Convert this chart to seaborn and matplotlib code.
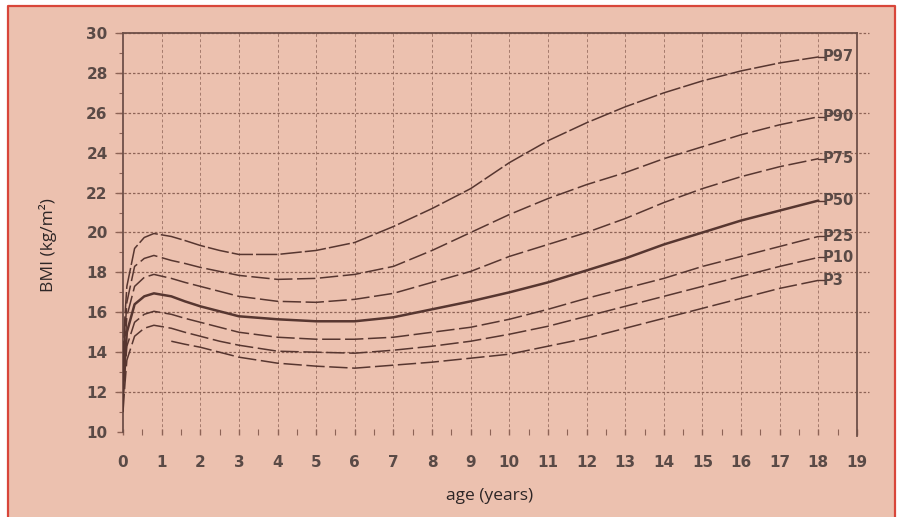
import numpy as np
import pandas as pd
import matplotlib
matplotlib.use("Agg")
import matplotlib.pyplot as plt
from matplotlib.lines import Line2D
from matplotlib.patches import Rectangle
import seaborn as sns

# ---- data ----
ages = [0, 0.05, 0.1, 0.3, 0.55, 0.8, 1.25, 1.6, 2, 2.5, 3, 4, 5, 6, 7, 8, 9, 10, 11, 12, 13, 14, 15, 16, 17, 18]
p97 = [13.5, 15.8, 17.3, 19.2, 19.75, 19.95, 19.8, 19.6, 19.35, 19.1, 18.9, 18.9, 19.1, 19.5, 20.3, 21.2, 22.2, 23.5, 24.6, 25.5, 26.3, 27.0, 27.6, 28.1, 28.5, 28.8]
p90 = [13.0, 15.0, 16.5, 18.3, 18.7, 18.85, 18.6, 18.45, 18.25, 18.05, 17.85, 17.65, 17.7, 17.9, 18.3, 19.1, 20.0, 20.9, 21.7, 22.4, 23.0, 23.7, 24.3, 24.9, 25.4, 25.8]
p75 = [12.5, 14.3, 15.8, 17.3, 17.75, 17.9, 17.7, 17.5, 17.3, 17.05, 16.8, 16.55, 16.5, 16.65, 16.95, 17.5, 18.05, 18.8, 19.4, 20.0, 20.7, 21.5, 22.2, 22.8, 23.3, 23.7]
p50 = [12.0, 13.6, 15.0, 16.4, 16.8, 16.95, 16.8, 16.55, 16.3, 16.05, 15.8, 15.65, 15.55, 15.55, 15.75, 16.15, 16.55, 17.0, 17.5, 18.1, 18.7, 19.4, 20.0, 20.6, 21.1, 21.6]
p25 = [11.5, 13.0, 14.3, 15.5, 15.9, 16.05, 15.9, 15.7, 15.5, 15.25, 15.0, 14.75, 14.65, 14.65, 14.75, 15.0, 15.25, 15.65, 16.15, 16.7, 17.2, 17.7, 18.3, 18.8, 19.3, 19.8]
p10 = [11.0, 12.4, 13.6, 14.8, 15.2, 15.35, 15.2, 15.0, 14.8, 14.55, 14.35, 14.05, 14.0, 13.95, 14.1, 14.3, 14.55, 14.9, 15.3, 15.8, 16.3, 16.8, 17.3, 17.8, 18.3, 18.75]
p3 = [np.nan, np.nan, np.nan, np.nan, np.nan, np.nan, 14.55, 14.4, 14.25, 14.0, 13.75, 13.45, 13.3, 13.2, 13.35, 13.5, 13.7, 13.9, 14.3, 14.7, 15.2, 15.7, 16.2, 16.7, 17.2, 17.6]
series_names = ["P97", "P90", "P75", "P50", "P25", "P10", "P3"]
series_vals = [p97, p90, p75, p50, p25, p10, p3]
x_ticks = list(range(0, 20))
y_ticks = list(range(10, 31, 2))

# ---- style ----
peach = "#ecc1af"
line_col = "#573630"
grid_col = "#8d6356"
text_col = "#5a4a46"
label_family = ["Liberation Sans Narrow", "DejaVu Sans"]

sns.set_theme(style="white")
plt.rcParams["font.family"] = ["Open Sans", "DejaVu Sans"]

W, H = 899, 517
fig = plt.figure(figsize=(W / 100, H / 100), dpi=100, facecolor="white")
fig.add_artist(Rectangle((8 / W, 0), (895 - 8) / W, 1 - 6 / H, transform=fig.transFigure,
                         facecolor=peach, edgecolor="none", zorder=-10))
red = "#d8463a"
fig.add_artist(Line2D([8 / W, 8 / W, 895 / W, 895 / W], [0, 1 - 6 / H, 1 - 6 / H, 0],
                      transform=fig.transFigure, color=red, lw=1.6))

ax = fig.add_axes([123 / W, 1 - 432 / H, (857 - 123) / W, (432 - 33) / H])
ax.set_facecolor(peach)
ax.patch.set_alpha(0)
ax.set_xlim(0, 19)
ax.set_ylim(10, 30)

# grid lines
ax.hlines(y_ticks[1:], -0.2, 19.3, colors=grid_col, linestyles=(0, (2, 1.5)), lw=0.9,
          clip_on=False, zorder=1)
ax.vlines(x_ticks[1:-1], 10, 30, colors=grid_col, linestyles=(0, (3, 2.5)), lw=0.7,
          alpha=0.75, zorder=1)

# curves
rows = []
for name, vals in zip(series_names, series_vals):
    for a, v in zip(ages, vals):
        rows.append({"age": a, "bmi": v, "pct": name})
df = pd.DataFrame(rows)

for name, vals in zip(series_names, series_vals):
    sub = df[df["pct"] == name].dropna()
    if name == "P50":
        ls, lw = "-", 1.8
    elif name == "P97":
        ls, lw = (0, (14, 2)), 1.1
    else:
        ls, lw = (0, (12, 3)), 1.1
    sns.lineplot(data=sub, x="age", y="bmi", ax=ax, color=line_col, lw=lw,
                 linestyle=ls, legend=False, zorder=3)
    ax.text(18.12, vals[-1], name, ha="left", va="center", fontsize=10.5,
            fontweight="bold", color=text_col, family=label_family)
    ax.plot([18, 18.15], [vals[-1], vals[-1]], color=line_col, lw=1.0, zorder=3)

# spines
for s in ["left", "top", "right"]:
    ax.spines[s].set_visible(True)
    ax.spines[s].set_color("#6e5048")
    ax.spines[s].set_linewidth(1.3)
ax.spines["bottom"].set_visible(False)
ax.spines["right"].set_bounds(9.8, 30)

ax.set_xticks(x_ticks)
ax.set_xticks(np.arange(0.5, 19, 0.5), minor=True)
ax.set_yticks(y_ticks)
ax.set_yticks(range(11, 30, 2), minor=True)
ax.tick_params(axis="x", which="major", length=5, width=1, direction="inout",
               color=grid_col, pad=14, labelsize=11, labelcolor=text_col, bottom=True)
ax.tick_params(axis="x", which="minor", length=4, width=0.8, direction="inout",
               color=grid_col, bottom=True)
ax.tick_params(axis="y", which="major", length=4, width=1, color=grid_col, pad=7,
               labelsize=11, labelcolor=text_col, left=True)
ax.tick_params(axis="y", which="minor", length=3, width=0.8, color=grid_col, left=True)
for lab in ax.get_xticklabels() + ax.get_yticklabels():
    lab.set_family(label_family)
    lab.set_fontweight("bold")

ax.set_xlabel("age (years)", fontsize=12.5, color="#2e2626")
ax.set_ylabel("BMI (kg/m²)", fontsize=12.5, color="#2e2626")
ax.xaxis.set_label_coords(0.5, -0.14)
ax.yaxis.set_label_coords(-0.09, 0.469)

fig.savefig("out.png", dpi=100, facecolor="white")
